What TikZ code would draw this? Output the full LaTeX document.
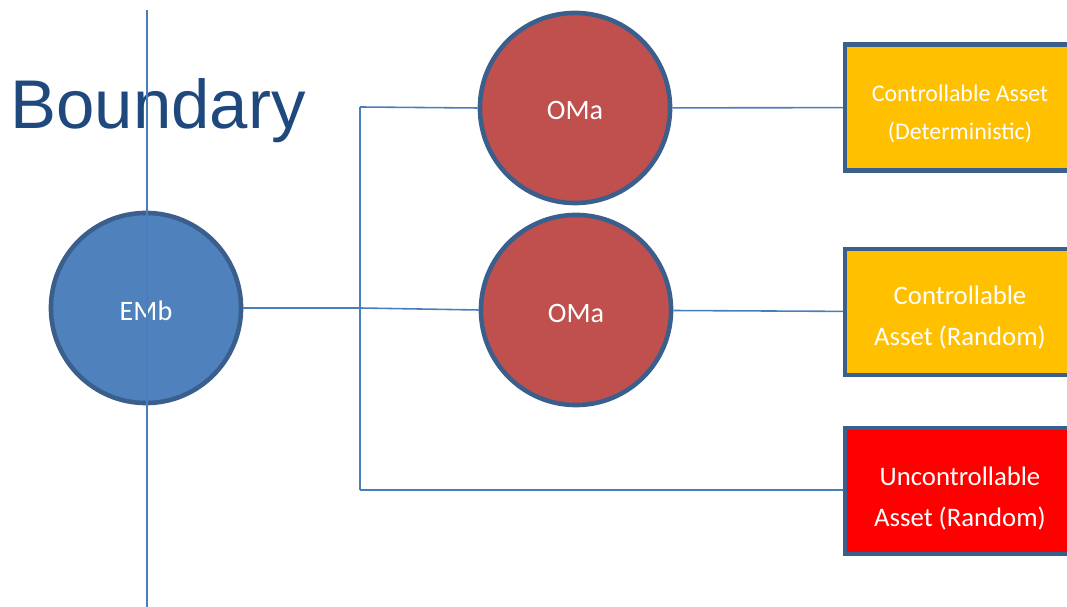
\documentclass[tikz,border=0pt]{standalone}
\usepackage{fontspec}
\usepackage{tikz}
\setmainfont{Carlito}
\newfontfamily\headfont{Liberation Sans}

\definecolor{rimblue}{HTML}{3A5F8C}
\definecolor{linkblue}{HTML}{4A7EBB}
\definecolor{embfill}{HTML}{4F81BD}
\definecolor{omafill}{HTML}{C0504D}
\definecolor{assetgold}{HTML}{FFC000}
\definecolor{assetred}{HTML}{FF0000}
\definecolor{headblue}{HTML}{1F497D}

\newcommand{\lowerby}[1]{\rule{0pt}{#1}}

\tikzset{
	agent/.style={shape=circle,draw=rimblue,line width=1.3pt,minimum size=1.9cm,inner sep=0pt,text=white,font=\fontsize{8}{9}\selectfont},
	asset/.style={shape=rectangle,draw=rimblue,line width=1.2pt,minimum width=2.3cm,minimum height=1.26cm,inner sep=0pt,text=white,align=center},
	link/.style={draw=linkblue,line width=0.45pt}
}

\begin{document}
\begin{tikzpicture}[x=0.01cm,y=-0.01cm]
	\useasboundingbox (0,0) rectangle (1067,607);

	\node[anchor=base west,inner sep=0pt,text=headblue,font=\headfont\fontsize{19.6}{24}\selectfont] (title) at (10,129) {Boundary};

	\node[agent,fill=embfill] (emb) at (146,308) {\lowerby{0.26cm}EMb};
	\node[agent,fill=omafill] (oma1) at (575,108) {\lowerby{0.24cm}OMa};
	\node[agent,fill=omafill] (oma2) at (576,310) {\lowerby{0.25cm}OMa};

	\node[asset,fill=assetgold,font=\fontsize{6.8}{10.8}\selectfont] (det) at (960,107.5) {\lowerby{0.29cm}Controllable Asset\\(Deterministic)};
	\node[asset,fill=assetgold,font=\fontsize{7.6}{11.6}\selectfont] (rnd) at (960,312) {\lowerby{0.3cm}Controllable\\Asset (Random)};
	\node[asset,fill=assetred,font=\fontsize{7.6}{11.6}\selectfont] (unc) at (960,491) {\lowerby{0.33cm}Uncontrollable\\Asset (Random)};

	\coordinate (jt) at (360,107);
	\coordinate (jm) at (360,308);
	\coordinate (jb) at (360,490);
	\coordinate (bt) at (147,10);
	\coordinate (bb) at (147,607);

	\path[link] (emb) edge (jm);
	\path[link] (jt) edge (jb);
	\path[link] (jt) edge (oma1.west);
	\path[link] (jm) edge (oma2.west);
	\path[link] (jb) edge (jb -| unc.west);
	\path[link] (oma1) edge (det);
	\path[link] (oma2) edge (rnd);

	\path[link,line width=0.55pt] (bt) edge (bb);

\end{tikzpicture}
\end{document}
